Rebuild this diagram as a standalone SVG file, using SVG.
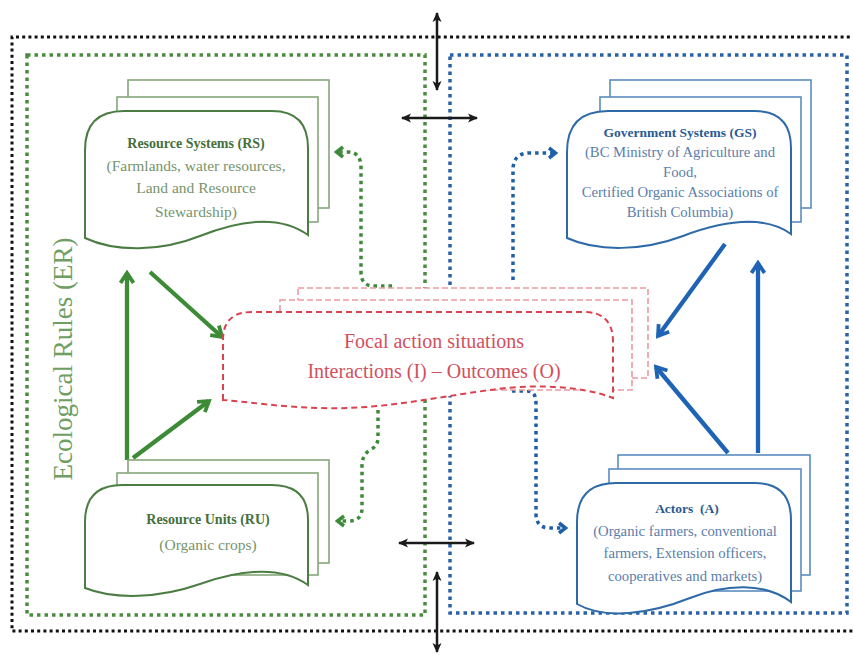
<svg xmlns="http://www.w3.org/2000/svg" width="853" height="655" viewBox="0 0 853 655">
<defs>
<style>
.t{font-family:"Liberation Serif","Times New Roman",serif;text-anchor:middle}
.gh{fill:#456f3c;font-weight:bold;font-size:14px}
.gb{fill:#76946b;font-size:15.5px}
.bh{fill:#2b5a92;font-weight:bold;font-size:13.5px}
.bb{fill:#5a7eaa;font-size:14.7px}
.rt{fill:#d2505c;font-size:20px}
.gback{fill:#fff;stroke:#86a67b;stroke-width:1.6}
.gfront{fill:#fff;stroke:#4b7d43;stroke-width:2}
.bback{fill:#fff;stroke:#5b8cc0;stroke-width:1.6}
.bfront{fill:#fff;stroke:#2e6aa8;stroke-width:2}
.rback{fill:#fff;stroke:#ec9aa1;stroke-width:1.6;stroke-dasharray:6 3}
.rfront{fill:#fff;stroke:#d9434f;stroke-width:2;stroke-dasharray:6 4}
.dbl{stroke:#1a1a1a;stroke-width:2.5;fill:none;marker-start:url(#mk);marker-end:url(#mk)}
.thg{stroke:#3d8b37;stroke-width:4.3;fill:none;marker-end:url(#ag)}
.thb{stroke:#1f63b5;stroke-width:4.3;fill:none;marker-end:url(#ab)}
.dg{stroke:#3f8a3a;stroke-width:3.5;fill:none;stroke-dasharray:3.5 4;marker-end:url(#gd)}
.db{stroke:#1f5fa8;stroke-width:3.5;fill:none;stroke-dasharray:3.5 4;marker-end:url(#bd)}
</style>
<marker id="mk" viewBox="0 0 10 10" refX="9" refY="5" markerWidth="10" markerHeight="10" markerUnits="userSpaceOnUse" orient="auto-start-reverse"><path d="M0,0.5 L10,5 L0,9.5 L2.5,5 Z" fill="#1a1a1a"/></marker>
<marker id="ag" viewBox="0 0 16 16" refX="13" refY="8" markerWidth="16" markerHeight="16" markerUnits="userSpaceOnUse" orient="auto"><path d="M3,1.5 L13,8 L3,14.5" fill="none" stroke="#3d8b37" stroke-width="3.8"/></marker>
<marker id="ab" viewBox="0 0 16 16" refX="13" refY="8" markerWidth="16" markerHeight="16" markerUnits="userSpaceOnUse" orient="auto"><path d="M3,1.5 L13,8 L3,14.5" fill="none" stroke="#1f63b5" stroke-width="3.8"/></marker>
<marker id="gd" viewBox="0 0 12 14" refX="10" refY="7" markerWidth="12" markerHeight="14" markerUnits="userSpaceOnUse" orient="auto"><path d="M3,2 L9.5,7 L3,12" fill="none" stroke="#3f8a3a" stroke-width="3.5"/></marker>
<marker id="bd" viewBox="0 0 12 14" refX="10" refY="7" markerWidth="12" markerHeight="14" markerUnits="userSpaceOnUse" orient="auto"><path d="M3,2 L9.5,7 L3,12" fill="none" stroke="#1f5fa8" stroke-width="3.5"/></marker>
</defs>
<rect width="853" height="655" fill="#fff"/>
<g id="frames">
<path d="M856,37 L12,37 L12,631 L856,631" fill="none" stroke="#111" stroke-width="3" stroke-dasharray="3 3.2"/>
<rect id="ecological-rules" x="27" y="55" width="398" height="560" fill="none" stroke="#4a8c3f" stroke-width="3.5" stroke-dasharray="3.5 4"/>
<rect id="governance-frame" x="450" y="55" width="397" height="558" fill="none" stroke="#2a62a8" stroke-width="3.5" stroke-dasharray="3.5 4"/>
<text class="t" x="0" y="0" transform="translate(72,359) rotate(-90)" fill="#6f9d62" font-size="27">Ecological Rules (ER)</text>
</g>
<g id="connectors">
<line class="dbl" x1="437" y1="13" x2="437" y2="90"/>
<line class="dbl" x1="402" y1="118" x2="477" y2="118"/>
<line class="dbl" x1="399" y1="543" x2="474" y2="543"/>
<line class="dbl" x1="437" y1="572" x2="437" y2="652"/>
<line class="thg" x1="127" y1="460" x2="127" y2="273"/>
<line class="thg" x1="150" y1="272" x2="222" y2="337"/>
<line class="thg" x1="133" y1="458" x2="209" y2="401"/>
<line class="thb" x1="725" y1="244" x2="658" y2="336"/>
<line class="thb" x1="728" y1="453" x2="656" y2="367"/>
<line class="thb" x1="758" y1="453" x2="758" y2="263"/>
<path class="dg" d="M392,286 L374,286 Q361,286 361,272 L361,168 Q361,152 348,152 L336,152"/>
<path class="db" d="M513,280 L513,170 Q513,153 530,153 L556,153"/>
<path class="dg" d="M378,410 L378,438 Q378,446 370,450 Q362,455 362,466 L362,508 Q362,521 349,521 L337,521"/>
<path class="db" d="M512,391 L527,391 Q536,391 536,403 L536,514 Q536,528 550,528 L566,528"/>
</g>
<g id="resource-systems">
<rect class="gback" x="128" y="80" width="201" height="128"/>
<rect class="gback" x="117" y="97" width="201" height="125"/>
<path class="gfront" d="M85,238 L85,150 Q85,111 124,111 L272,111 Q308,111 308,148 L308,235 C280,215 240,220 200,236 C160,252 115,252 85,238 Z"/>
<text class="t gh" x="196" y="148">Resource Systems (RS)</text>
<text class="t gb" x="196" y="171">(Farmlands, water resources,</text>
<text class="t gb" x="196" y="193">Land and Resource</text>
<text class="t gb" x="196" y="217">Stewardship)</text>
</g>
<g id="government-systems">
<rect class="bback" x="610" y="80" width="201" height="128"/>
<rect class="bback" x="600" y="97" width="201" height="125"/>
<path class="bfront" d="M567,238 L567,152 Q567,111 608,111 L755,111 Q791,111 791,148 L791,234 C763,214 723,221 683,236 C643,251 598,252 567,238 Z"/>
<text class="t bh" x="680" y="137">Government Systems (GS)</text>
<text class="t bb" x="680" y="157">(BC Ministry of Agriculture and</text>
<text class="t bb" x="680" y="177">Food,</text>
<text class="t bb" x="680" y="197">Certified Organic Associations of</text>
<text class="t bb" x="680" y="217">British Columbia)</text>
</g>
<g id="focal-action-situations">
<rect class="rback" x="298" y="288" width="350" height="90"/>
<rect class="rback" x="280" y="300" width="352" height="90"/>
<path class="rfront" d="M223,400 L223,340 Q223,312 252,312 L584,312 Q613,312 613,342 L613,398 C580,385 530,384 490,390 C430,398 380,410 320,408 C280,407 250,402 223,400 Z"/>
<text class="t rt" x="434" y="348">Focal action situations</text>
<text class="t rt" x="434" y="378">Interactions (I) – Outcomes (O)</text>
</g>
<g id="resource-units">
<rect class="gback" x="128" y="460" width="201" height="103"/>
<rect class="gback" x="117" y="473" width="201" height="102"/>
<path class="gfront" d="M85,588 L85,522 Q85,485 122,485 L272,485 Q308,485 308,520 L308,585 C280,565 240,570 200,584 C160,598 115,600 85,588 Z"/>
<text class="t gh" x="208" y="524">Resource Units (RU)</text>
<text class="t gb" x="208" y="550">(Organic crops)</text>
</g>
<g id="actors">
<rect class="bback" x="618" y="455" width="192" height="120"/>
<rect class="bback" x="609" y="469" width="192" height="122"/>
<path class="bfront" d="M577,604 L577,522 Q577,483 616,483 L755,483 Q791,483 791,520 L791,602 C765,582 725,584 690,598 C650,614 605,620 577,604 Z"/>
<text class="t bh" x="687" y="513">Actors&#160; (A)</text>
<text class="t bb" x="685" y="536">(Organic farmers, conventional</text>
<text class="t bb" x="685" y="558">farmers, Extension officers,</text>
<text class="t bb" x="685" y="581">cooperatives and markets)</text>
</g>
</svg>
